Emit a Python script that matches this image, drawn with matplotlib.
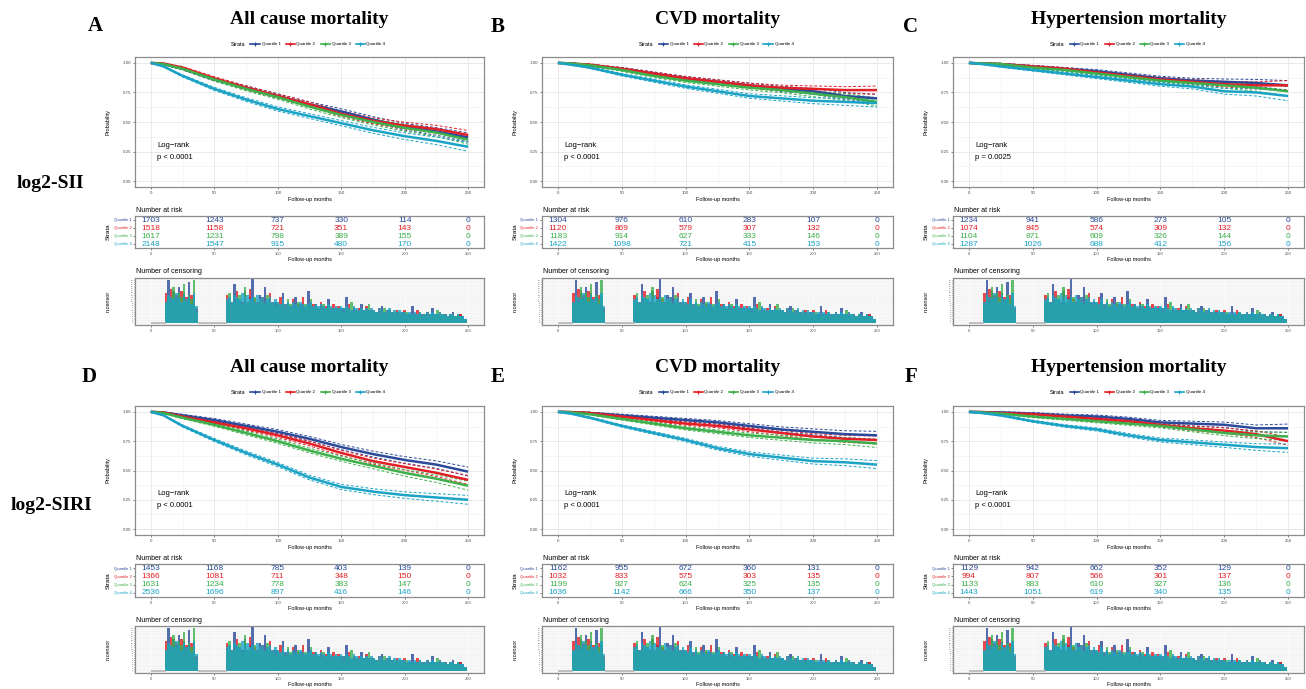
import matplotlib
matplotlib.use("Agg")
import matplotlib.pyplot as plt
from matplotlib.lines import Line2D

W, H = 1306, 689
SANS = ['Liberation Sans', 'DejaVu Sans']
SERIF = ['Liberation Serif', 'DejaVu Serif']
plt.rcParams['font.family'] = SANS

# ---------------- data ----------------
strata = ['Quartile 1', 'Quartile 2', 'Quartile 3', 'Quartile 4']
colors = ['#2B4A9A', '#E21F26', '#3DB04B', '#1BA3C6']
time_points = [0, 10, 25, 50, 75, 100, 125, 150, 175, 200, 225, 250]
risk_times = [0, 50, 100, 150, 200, 250]

panel_letters = ['A', 'B', 'C', 'D', 'E', 'F']
panel_titles = ['All cause mortality', 'CVD mortality', 'Hypertension mortality',
                'All cause mortality', 'CVD mortality', 'Hypertension mortality']
row_labels = ['log2-SII', 'log2-SIRI']
pvalues = ['p < 0.0001', 'p < 0.0001', 'p = 0.0025', 'p < 0.0001', 'p < 0.0001', 'p < 0.0001']

# survival estimates (Quartile 1..4) at time_points
surv_A = [[1, 0.99, 0.95, 0.86, 0.79, 0.72, 0.65, 0.59, 0.52, 0.46, 0.42, 0.37],
          [1, 0.995, 0.96, 0.87, 0.79, 0.72, 0.65, 0.57, 0.51, 0.47, 0.44, 0.39],
          [1, 0.99, 0.95, 0.86, 0.78, 0.71, 0.63, 0.56, 0.50, 0.45, 0.41, 0.35],
          [1, 0.97, 0.89, 0.78, 0.69, 0.61, 0.55, 0.49, 0.43, 0.38, 0.34, 0.29]]
surv_B = [[1, 0.995, 0.98, 0.95, 0.91, 0.87, 0.84, 0.81, 0.78, 0.76, 0.72, 0.70],
          [1, 0.995, 0.985, 0.95, 0.91, 0.87, 0.84, 0.81, 0.79, 0.78, 0.77, 0.77],
          [1, 0.995, 0.98, 0.94, 0.89, 0.85, 0.82, 0.79, 0.77, 0.74, 0.71, 0.67],
          [1, 0.985, 0.96, 0.90, 0.85, 0.80, 0.76, 0.72, 0.70, 0.68, 0.67, 0.66]]
surv_C = [[1, 0.995, 0.99, 0.97, 0.95, 0.93, 0.90, 0.87, 0.85, 0.84, 0.83, 0.81],
          [1, 0.995, 0.99, 0.97, 0.95, 0.92, 0.89, 0.86, 0.84, 0.82, 0.81, 0.81],
          [1, 0.995, 0.99, 0.96, 0.94, 0.91, 0.88, 0.85, 0.83, 0.81, 0.79, 0.76],
          [1, 0.99, 0.97, 0.94, 0.91, 0.88, 0.85, 0.82, 0.80, 0.76, 0.75, 0.72]]
surv_D = [[1, 0.995, 0.97, 0.93, 0.88, 0.83, 0.77, 0.70, 0.64, 0.59, 0.55, 0.49],
          [1, 0.995, 0.96, 0.91, 0.86, 0.80, 0.73, 0.65, 0.58, 0.53, 0.48, 0.42],
          [1, 0.99, 0.95, 0.89, 0.82, 0.75, 0.67, 0.60, 0.54, 0.48, 0.43, 0.37],
          [1, 0.97, 0.88, 0.76, 0.65, 0.55, 0.44, 0.36, 0.32, 0.29, 0.27, 0.25]]
surv_E = [[1, 0.998, 0.99, 0.97, 0.95, 0.93, 0.91, 0.88, 0.85, 0.83, 0.81, 0.80],
          [1, 0.998, 0.99, 0.96, 0.93, 0.90, 0.88, 0.85, 0.82, 0.79, 0.77, 0.76],
          [1, 0.995, 0.98, 0.94, 0.90, 0.86, 0.83, 0.80, 0.78, 0.76, 0.75, 0.73],
          [1, 0.985, 0.95, 0.88, 0.82, 0.76, 0.69, 0.64, 0.61, 0.58, 0.57, 0.55]]
surv_F = [[1, 0.998, 0.995, 0.985, 0.97, 0.96, 0.94, 0.91, 0.90, 0.89, 0.86, 0.86],
          [1, 0.998, 0.99, 0.98, 0.96, 0.94, 0.92, 0.89, 0.86, 0.84, 0.81, 0.75],
          [1, 0.995, 0.985, 0.96, 0.94, 0.92, 0.90, 0.88, 0.85, 0.82, 0.80, 0.79],
          [1, 0.99, 0.97, 0.92, 0.88, 0.85, 0.80, 0.76, 0.74, 0.72, 0.70, 0.69]]

# half-width of the 95% confidence band at time_points
ci_A = [0, 0.004, 0.009, 0.013, 0.016, 0.018, 0.020, 0.022, 0.025, 0.028, 0.032, 0.038]
ci_B = [0, 0.003, 0.007, 0.011, 0.013, 0.015, 0.017, 0.019, 0.022, 0.025, 0.029, 0.034]
ci_C = [0, 0.003, 0.006, 0.009, 0.011, 0.013, 0.015, 0.017, 0.020, 0.024, 0.030, 0.040]
ci_D = [0, 0.004, 0.009, 0.013, 0.016, 0.018, 0.020, 0.022, 0.025, 0.028, 0.032, 0.038]
ci_E = [0, 0.003, 0.007, 0.010, 0.012, 0.014, 0.016, 0.019, 0.022, 0.025, 0.029, 0.034]
ci_F = [0, 0.003, 0.006, 0.009, 0.011, 0.013, 0.015, 0.017, 0.020, 0.023, 0.028, 0.036]

# number at risk (Quartile 1..4) at risk_times
risk_A = [[1703, 1243, 737, 330, 114, 0], [1518, 1158, 721, 351, 143, 0],
          [1617, 1231, 798, 389, 155, 0], [2148, 1547, 915, 480, 170, 0]]
risk_B = [[1304, 976, 610, 283, 107, 0], [1120, 869, 579, 307, 132, 0],
          [1183, 914, 627, 333, 146, 0], [1422, 1098, 721, 415, 153, 0]]
risk_C = [[1234, 941, 586, 273, 105, 0], [1074, 845, 574, 309, 132, 0],
          [1104, 871, 609, 326, 144, 0], [1287, 1026, 688, 412, 156, 0]]
risk_D = [[1453, 1168, 785, 403, 139, 0], [1366, 1081, 711, 348, 150, 0],
          [1631, 1234, 778, 383, 147, 0], [2536, 1696, 897, 416, 146, 0]]
risk_E = [[1162, 955, 672, 360, 131, 0], [1032, 833, 575, 303, 135, 0],
          [1199, 927, 624, 325, 135, 0], [1636, 1142, 666, 350, 137, 0]]
risk_F = [[1129, 942, 662, 352, 129, 0], [994, 807, 566, 301, 137, 0],
          [1133, 883, 610, 327, 136, 0], [1443, 1051, 619, 340, 135, 0]]

# number of censored subjects (2-month bins), estimated
censor_months_early = list(range(12, 37, 2))
censor_months_late = list(range(60, 250, 2))
censor_early = [
    [8, 20, 11, 15, 12, 17, 9, 14, 10, 19, 8, 12, 6],
    [14, 10, 16, 9, 13, 11, 15, 10, 12, 9, 13, 10, 7],
    [9, 12, 10, 17, 11, 14, 12, 18, 10, 13, 11, 20, 5],
    [10, 13, 12, 11, 14, 12, 10, 13, 11, 12, 9, 14, 8]]
censor_late = [
    [9, 10, 8, 18, 9, 11, 10, 15, 9, 12, 22, 10, 9, 13, 8, 17, 10, 9, 8, 10,
     9, 7, 14, 8, 9, 7, 8, 12, 7, 9, 8, 6, 15, 8, 7, 9, 6, 8, 7, 6, 11, 7, 6, 7, 6,
     7, 6, 12, 6, 5, 7, 6, 5, 9, 6, 5, 6, 5, 6, 5, 4, 8, 5, 4, 6, 5, 4, 5, 4, 5,
     4, 3, 4, 8, 4, 3, 4, 3, 4, 3, 4, 7, 3, 4, 3, 3, 4, 3, 4, 5, 3, 3, 4, 3, 2],
    [13, 9, 10, 11, 15, 9, 10, 12, 10, 16, 9, 11, 10, 9, 12, 10, 9, 14, 10, 9,
     8, 12, 8, 9, 10, 8, 11, 7, 9, 8, 12, 7, 8, 7, 9, 8, 7, 10, 7, 8, 6, 7, 9, 6, 8,
     6, 7, 6, 9, 5, 6, 5, 7, 6, 5, 8, 5, 6, 4, 5, 7, 5, 4, 6, 4, 5, 4, 6, 4, 4,
     6, 4, 3, 4, 3, 6, 3, 4, 3, 5, 4, 3, 4, 3, 5, 3, 4, 3, 3, 4, 3, 3, 4, 2, 2],
    [10, 14, 9, 10, 11, 13, 9, 17, 10, 11, 10, 12, 9, 11, 10, 9, 13, 10, 9, 8,
     10, 8, 9, 7, 11, 9, 8, 7, 10, 8, 7, 9, 8, 11, 7, 8, 7, 6, 9, 7, 8, 6, 7, 6, 7,
     6, 5, 7, 6, 10, 5, 6, 5, 6, 5, 6, 9, 5, 6, 5, 4, 5, 7, 4, 5, 4, 5, 4, 5, 4,
     4, 5, 3, 4, 3, 4, 5, 3, 4, 3, 4, 3, 4, 6, 3, 4, 3, 3, 4, 3, 3, 4, 3, 2, 2],
    [11, 12, 10, 13, 12, 11, 14, 12, 13, 11, 12, 10, 13, 11, 12, 10, 11, 12, 10, 11,
     10, 9, 11, 9, 10, 8, 10, 9, 8, 10, 9, 8, 9, 10, 8, 9, 8, 9, 8, 7, 9, 8, 7, 8, 7,
     8, 7, 8, 7, 6, 8, 7, 6, 7, 6, 7, 6, 7, 6, 5, 7, 6, 5, 6, 7, 5, 6, 5, 6, 5,
     5, 4, 5, 4, 5, 4, 5, 4, 4, 5, 4, 5, 4, 4, 5, 4, 4, 3, 4, 4, 3, 4, 3, 3, 2]]
# months with no censoring drawn as a flat grey base
zero_censor_spans = [(0, 12), (37, 60)]

survs = [surv_A, surv_B, surv_C, surv_D, surv_E, surv_F]
cis = [ci_A, ci_B, ci_C, ci_D, ci_E, ci_F]
risks = [risk_A, risk_B, risk_C, risk_D, risk_E, risk_F]

# ---------------- layout (pixels) ----------------
fig = plt.figure(figsize=(W / 100, H / 100), dpi=100)

col_lr = [(135, 484), (542, 893), (953, 1304)]
main_tb = [(57, 187), (406, 535)]
risk_tb = [(216, 248), (564, 597)]
cens_tb = [(278, 325), (626, 673)]
legend_y = [44, 392]
title_y = [19, 367]
letter_pos = [(95, 26), (498, 27), (911, 27), (89, 377), (498, 377), (911, 377)]
rowlab_pos = [(50, 184), (51, 505)]


def rect(l, t, r, b):
    return [l / W, 1 - b / H, (r - l) / W, (b - t) / H]


def ftext(x, y, s, **kw):
    fig.text(x / W, 1 - y / H, s, **kw)


XL = (-12.5, 262.5)
BORDER = '#8C8C8C'
TICKC = '#4D4D4D'


def style_axes(ax, fs=3.2):
    for sp in ax.spines.values():
        sp.set_color(BORDER)
        sp.set_linewidth(0.9)
    ax.tick_params(labelsize=fs, colors=TICKC, length=1.5, width=0.5, pad=1.2)
    ax.set_xlim(*XL)
    ax.set_xticks(risk_times)


for p in range(6):
    row, col = divmod(p, 3)
    l, r = col_lr[col]
    cx = (l + r) / 2

    # ---- main KM axes ----
    t, b = main_tb[row]
    ax = fig.add_axes(rect(l, t, r, b))
    style_axes(ax)
    ax.set_ylim(-0.05, 1.05)
    ax.set_yticks([0, 0.25, 0.5, 0.75, 1.0])
    ax.set_yticklabels(['0.00', '0.25', '0.50', '0.75', '1.00'])
    ax.set_xticks([25, 75, 125, 175, 225], minor=True)
    ax.set_yticks([0.125, 0.375, 0.625, 0.875], minor=True)
    ax.tick_params(which='minor', length=0)
    ax.grid(True, which='major', color='#E6E6E6', lw=0.6)
    ax.grid(True, which='minor', color='#F0F0F0', lw=0.4)
    ax.set_axisbelow(True)
    for q in range(4):
        s = survs[p][q]
        hw = cis[p]
        ax.plot(time_points, [v + h for v, h in zip(s, hw)], color=colors[q], lw=0.7,
                ls=(0, (3, 2)))
        ax.plot(time_points, [v - h for v, h in zip(s, hw)], color=colors[q], lw=0.7,
                ls=(0, (3, 2)))
    for q in range(4):
        ax.plot(time_points, survs[p][q], color=colors[q], lw=1.8, solid_capstyle='butt')
    ax.text(5, 0.30, 'Log\u2212rank', fontsize=5.5, va='center', ha='left')
    ax.text(5, 0.20, pvalues[p], fontsize=5.5, va='center', ha='left')
    ax.set_xlabel('Follow-up months', fontsize=4, labelpad=1.5)
    ax.set_ylabel('Probability', fontsize=4, labelpad=9)

    # ---- legend ----
    ly = legend_y[row]
    ftext(cx - 79, ly, 'Strata', fontsize=4, va='center', ha='left')
    for q in range(4):
        x0 = cx - 59 + 35 * q
        fig.add_artist(Line2D([x0 / W, (x0 + 9) / W], [1 - ly / H, 1 - ly / H],
                              color=colors[q], lw=1.2, transform=fig.transFigure))
        fig.add_artist(Line2D([(x0 + 4.5) / W], [1 - ly / H], color=colors[q],
                              marker='+', ms=3, mew=0.8, transform=fig.transFigure))
        ftext(x0 + 11, ly, strata[q], fontsize=3.2, va='center', ha='left')

    # ---- titles & letters ----
    ftext(cx, title_y[row], panel_titles[p], fontsize=14, fontweight='bold',
          family=SERIF, ha='center', va='center')
    lx, lyy = letter_pos[p]
    ftext(lx, lyy, panel_letters[p], fontsize=15, fontweight='bold', family=SERIF,
          ha='center', va='center')

    # ---- risk table ----
    t, b = risk_tb[row]
    axr = fig.add_axes(rect(l, t, r, b))
    style_axes(axr, fs=3)
    axr.set_ylim(3.5, -0.5)
    axr.set_yticks(range(4))
    axr.set_yticklabels(strata)
    for q, lab in enumerate(axr.get_yticklabels()):
        lab.set_color(colors[q])
    axr.grid(True, axis='x', color='#EBEBEB', lw=0.5)
    axr.set_axisbelow(True)
    for q in range(4):
        for tt, n in zip(risk_times, risks[p][q]):
            axr.text(tt, q, str(n), color=colors[q], fontsize=6, ha='center', va='center')
    axr.set_xlabel('Follow-up months', fontsize=4, labelpad=1)
    axr.set_ylabel('Strata', fontsize=4.5, labelpad=2)
    ftext(l + 1, t - 6, 'Number at risk', fontsize=5, ha='left', va='center')

    # ---- censoring plot ----
    t, b = cens_tb[row]
    axc = fig.add_axes(rect(l, t, r, b))
    style_axes(axc, fs=3)
    axc.set_facecolor('#F3F3F3')
    axc.set_ylim(-1.0, 21.0)
    axc.set_yticks(range(21))
    labels = [str(v) for v in range(21)]
    axc.set_yticklabels(labels)
    axc.tick_params(axis='y', labelsize=1.6, length=1, pad=0.5)
    axc.grid(True, color='#FFFFFF', lw=0.4)
    axc.set_axisbelow(True)
    for (s0, s1) in zero_censor_spans:
        axc.plot([s0, s1], [0.15, 0.15], color='#B5B5B5', lw=1.2, solid_capstyle='butt')
    for q in range(4):
        axc.bar(censor_months_early, censor_early[q], width=2, color=colors[q],
                alpha=0.8, lw=0)
        axc.bar(censor_months_late, censor_late[q], width=2, color=colors[q],
                alpha=0.8, lw=0)
    axc.set_ylabel('n.censor', fontsize=4, labelpad=14)
    if row == 1:
        axc.set_xlabel('Follow-up months', fontsize=4, labelpad=1)
    ftext(l + 1, t - 6, 'Number of censoring', fontsize=5, ha='left', va='center')

for i, (x, y) in enumerate(rowlab_pos):
    ftext(x, y, row_labels[i], fontsize=14, fontweight='bold', family=SERIF,
          ha='center', va='center')

fig.savefig('out.png', dpi=100, facecolor='white')
